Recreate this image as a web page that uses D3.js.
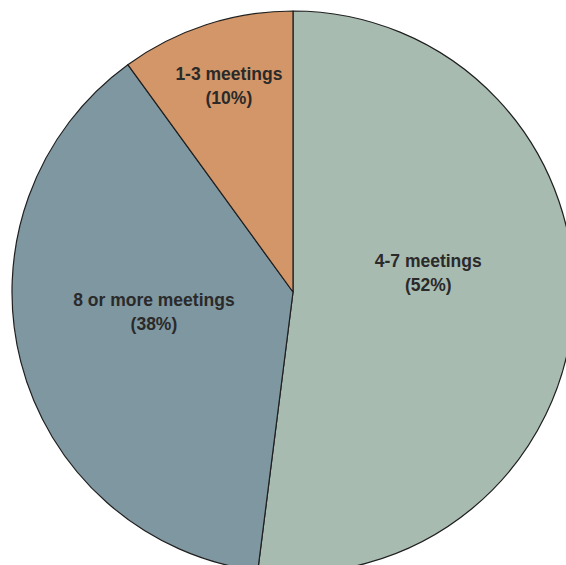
<!DOCTYPE html>
<html>
<head>
<meta charset="utf-8">
<script src="https://cdn.jsdelivr.net/npm/d3@7"></script>
<style>
  html, body { margin: 0; padding: 0; background: #ffffff; overflow: hidden; }
  svg { display: block; }
</style>
</head>
<body>
<svg id="chart" width="566" height="565"></svg>
<script>
// Share of respondents by number of meetings attended
const categories = ["4-7 meetings", "8 or more meetings", "1-3 meetings"];
const shares = [52, 38, 10];
const shareLabels = ["(52%)", "(38%)", "(10%)"];
const colors = ["#a8bbb1", "#7f97a1", "#d39668"];

// Label placement: fraction of the radius for the centroid, plus a nudge
const labelLayout = {
  "4-7 meetings":       { k: 0.5,  dx: -5, dy: -22 },
  "8 or more meetings": { k: 0.5,  dx: -3, dy: -9 },
  "1-3 meetings":       { k: 0.75, dx: 1,  dy: 0 }
};

const svg = d3.select("#chart");
const cx = 293, cy = 292, R = 281;

const data = categories.map((c, i) => ({ name: c, value: shares[i], pct: shareLabels[i], color: colors[i] }));

const pie = d3.pie().sort(null).value(d => d.value);
const arc = d3.arc().innerRadius(0).outerRadius(R);

const g = svg.append("g").attr("transform", `translate(${cx},${cy})`);
const arcs = pie(data);

g.selectAll("path.slice")
  .data(arcs)
  .join("path")
  .attr("class", "slice")
  .attr("d", arc)
  .attr("fill", d => d.data.color)
  .attr("stroke", "#1f1f1f")
  .attr("stroke-width", 1.2)
  .attr("stroke-linejoin", "round");

const labels = g.selectAll("text.label")
  .data(arcs)
  .join("text")
  .attr("class", "label")
  .attr("text-anchor", "middle")
  .attr("font-family", "'Liberation Sans', Arial, Helvetica, sans-serif")
  .attr("font-weight", "bold")
  .attr("font-size", "17.5px")
  .attr("fill", "#2a2a2a")
  .attr("transform", d => {
    const L = labelLayout[d.data.name];
    const [x, y] = d3.arc().innerRadius(L.k * R).outerRadius(L.k * R).centroid(d);
    return `translate(${x + L.dx},${y + L.dy})`;
  });

labels.append("tspan").attr("x", 0).attr("y", -12).text(d => d.data.name);
labels.append("tspan").attr("x", 0).attr("y", 12).text(d => d.data.pct);
</script>
</body>
</html>
